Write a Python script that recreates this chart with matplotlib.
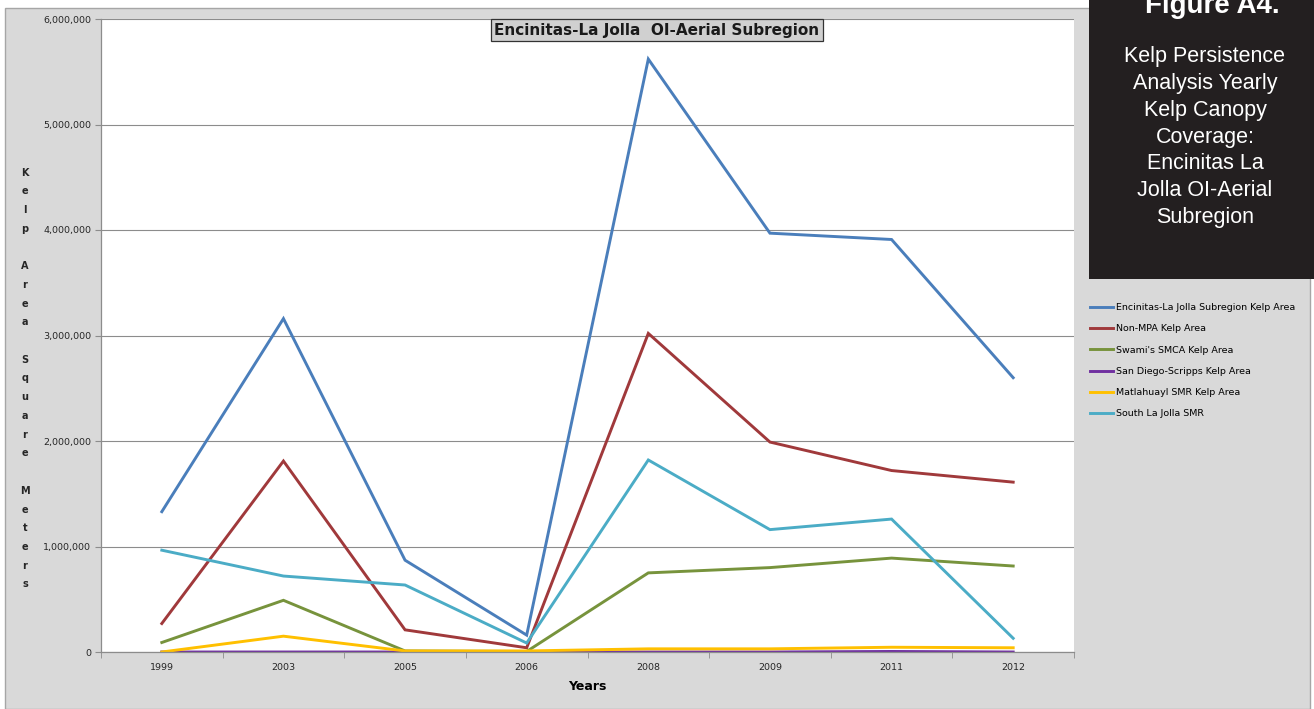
import matplotlib.pyplot as plt
import matplotlib.patches as patches
from matplotlib.ticker import FuncFormatter, FixedLocator

# data (square meters)
years = ["1999", "2003", "2005", "2006", "2008", "2009", "2011", "2012"]
encinitas_total = [1330000, 3160000, 870000, 160000, 5620000, 3970000, 3910000, 2600000]
non_mpa = [270000, 1810000, 210000, 40000, 3020000, 1990000, 1720000, 1610000]
swamis_smca = [90000, 490000, 10000, 5000, 750000, 800000, 890000, 815000]
san_diego_scripps = [0, 0, 0, 0, 0, 0, 5000, 0]
matlahuayl_smr = [0, 150000, 10000, 10000, 30000, 30000, 45000, 40000]
south_la_jolla = [965000, 720000, 635000, 85000, 1820000, 1160000, 1260000, 130000]

series_names = ["Encinitas-La Jolla Subregion Kelp Area", "Non-MPA Kelp Area",
                "Swami's SMCA Kelp Area", "San Diego-Scripps Kelp Area",
                "Matlahuayl SMR Kelp Area", "South La Jolla SMR"]
series_colors = ["#4a7ebb", "#a0393b", "#77933c", "#7030a0", "#ffc000", "#4bacc6"]

W, H = 1314, 709
fig = plt.figure(figsize=(W / 100, H / 100), dpi=100)
fig.patch.set_facecolor("white")

# grey chart area
fig.patches.append(patches.Rectangle((5 / W, 0), (1310 - 5) / W, 1 - 8 / H,
                                     transform=fig.transFigure, facecolor="#d9d9d9",
                                     edgecolor="#a6a6a6", linewidth=1, zorder=-2))

ax = fig.add_axes([101 / W, (H - 652) / H, (1074 - 101) / W, (652 - 19) / H])
ax.set_facecolor("white")

x = list(range(len(years)))
all_series = [encinitas_total, non_mpa, swamis_smca, san_diego_scripps,
              matlahuayl_smr, south_la_jolla]
for vals, name, col in zip(all_series, series_names, series_colors):
    ax.plot(x, vals, color=col, linewidth=2.1, label=name, solid_joinstyle="miter")

ax.set_xlim(-0.5, len(years) - 0.5)
ax.set_ylim(0, 6000000)
ax.set_yticks(range(0, 6000001, 1000000))
ax.yaxis.set_major_formatter(FuncFormatter(lambda v, p: f"{int(v):,}"))
ax.grid(axis="y", color="#8c8c8c", linewidth=0.8)
ax.set_axisbelow(True)

ax.set_xticks(x)
ax.set_xticklabels(years)
ax.xaxis.set_minor_locator(FixedLocator([i - 0.5 for i in range(len(years) + 1)]))
ax.tick_params(axis="x", which="major", length=0, pad=8, labelsize=6.8, labelcolor="#262626")
ax.tick_params(axis="x", which="minor", length=4, color="#8c8c8c", direction="out")
ax.tick_params(axis="y", length=4, color="#8c8c8c", labelsize=6.8, labelcolor="#262626", pad=3)

for s in ["top", "right"]:
    ax.spines[s].set_visible(False)
for s in ["left", "bottom"]:
    ax.spines[s].set_color("#8c8c8c")
    ax.spines[s].set_linewidth(0.9)

ax.set_xlabel("Years", fontsize=9, fontweight="bold", labelpad=6)

# vertical stacked y label
ylabel = "\n".join(list("Kelp") + [""] + list("Area") + [""] + list("Square") + [""] + list("Meters"))
fig.text(25 / W, 1 - 378.5 / H, ylabel, ha="center", va="center", fontsize=7,
         fontweight="bold", linespacing=2.09, color="#262626")

# boxed title
fig.text(657 / W, 1 - 30 / H, "Encinitas-La Jolla  OI-Aerial Subregion", ha="center", va="center",
         fontsize=11, fontweight="bold", color="#1a1a1a",
         bbox=dict(boxstyle="square,pad=0.2", facecolor="#d0d0d0", edgecolor="#333333", linewidth=0.9))

# legend
ax.legend(loc="upper left", bbox_to_anchor=(1090 / W, 1 - 303 / H), bbox_transform=fig.transFigure,
          frameon=False, fontsize=6.8, handlelength=2.4, handletextpad=0.3, labelspacing=1.3,
          borderpad=0, borderaxespad=0)

# dark caption box
fig.patches.append(patches.Rectangle((1089 / W, 1 - 279 / H), (W - 1089) / W, 279 / H,
                                     transform=fig.transFigure, facecolor="#231f20",
                                     edgecolor="none", zorder=1))
fig.text(1212 / W, 1 - 13 / H, "Figure A4.", ha="center", va="baseline", fontsize=20,
         fontweight="bold", color="white", family="Liberation Sans")
fig.text(1205 / W, 1 - 137 / H,
         "Kelp Persistence\nAnalysis Yearly\nKelp Canopy\nCoverage:\nEncinitas La\nJolla OI-Aerial\nSubregion",
         ha="center", va="center", fontsize=15.5, color="white", family="Liberation Sans",
         linespacing=1.36)

fig.savefig("out.png", dpi=100)
